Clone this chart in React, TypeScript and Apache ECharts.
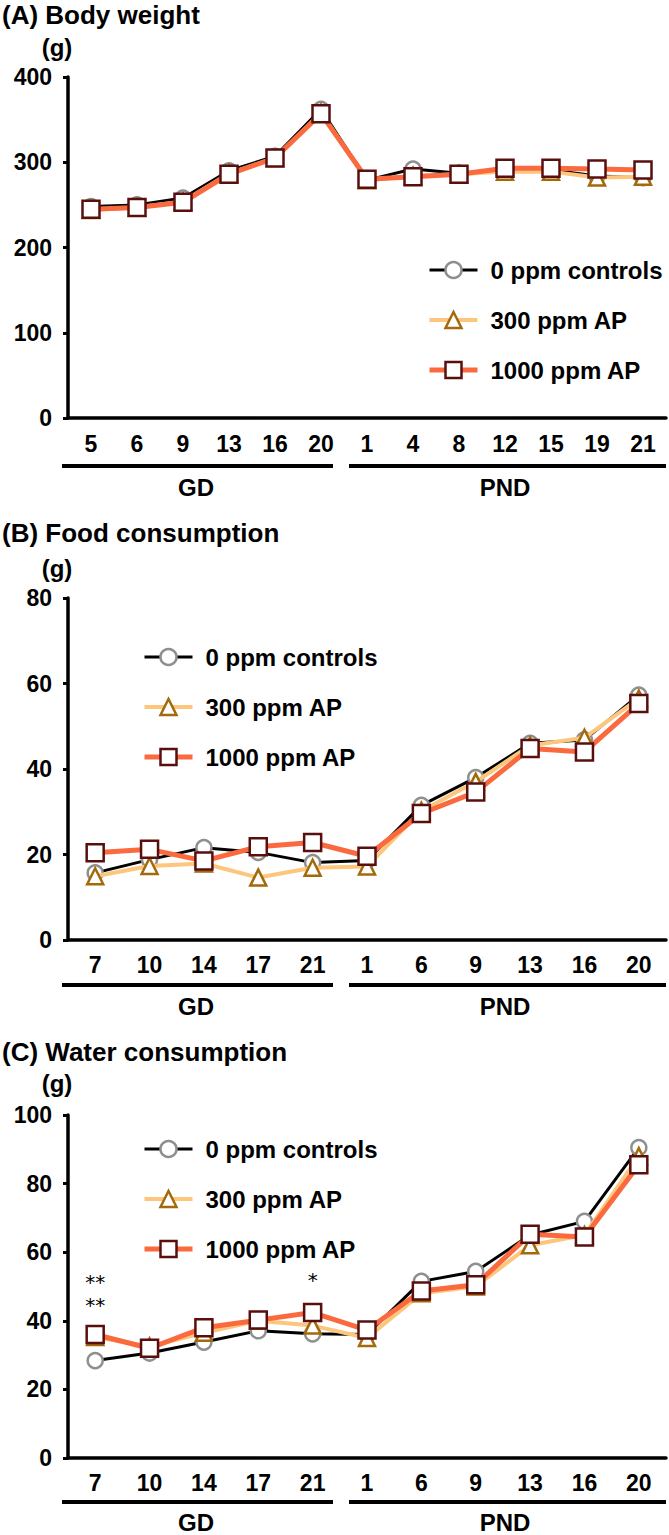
import { useEffect, useRef } from 'react'
import * as echarts from 'echarts'

const seriesNames = ['0 ppm controls', '300 ppm AP', '1000 ppm AP']

// (A) body weight, GD 5..20 then PND 1..21
const bodyWeightDays = ['5', '6', '9', '13', '16', '20', '1', '4', '8', '12', '15', '19', '21']
const bodyWeightControl = [248, 250, 258, 290, 307, 362, 279, 292, 287, 290, 291, 284, 282]
const bodyWeight300 = [244, 247, 254, 287, 305, 358, 279, 284, 286, 289, 289, 282, 283]
const bodyWeight1000 = [245, 247, 253, 286, 305, 357, 280, 283, 286, 293, 293, 292, 291]

// (B) and (C) share the same days
const consumptionDays = ['7', '10', '14', '17', '21', '1', '6', '9', '13', '16', '20']
const foodControl = [15.7, 18.8, 21.6, 20.5, 18.1, 18.6, 31.5, 38, 46, 46.8, 57.3]
const food300 = [14.9, 17.3, 17.9, 14.6, 16.9, 17.2, 30.2, 37, 45.5, 47.3, 56.5]
const food1000 = [20.4, 21.2, 18.5, 21.8, 22.8, 19.6, 29.6, 34.6, 44.8, 44, 55.3]

const waterControl = [28.4, 30.6, 33.8, 37.1, 36.2, 36, 51.5, 54.4, 65, 69, 90.5]
const water300 = [35.3, 32.5, 36.5, 40, 38.6, 35, 48, 50, 62, 65, 88]
const water1000 = [36, 32, 38, 40.2, 42.4, 37.3, 48.7, 50.5, 65.2, 64.4, 85.5]

// significance marks over the 1000 ppm water series (GD 7 has two rows)
const waterMarks = [
  { index: 0, value: 51.4, text: '**' },
  { index: 0, value: 44.6, text: '**' },
  { index: 4, value: 52, text: '*' },
]

const panelTitles = ['(A) Body weight', '(B) Food consumption', '(C) Water consumption']
const yAxisMax = [400, 80, 100]
const yAxisStep = [100, 20, 20]
const periodLabels = ['GD', 'PND']

const FONT = '"Liberation Sans", Arial, Helvetica, sans-serif'

const panels = [
  { top: 77, height: 341, labelMargin: 14, title: 15, unit: 47, bracket: 466, period: 487, legendLeft: 422, legendTop: 253, legendGap: 26 },
  { top: 598, height: 342, labelMargin: 13, title: 533, unit: 568, bracket: 985, period: 1006, legendLeft: 137, legendTop: 640, legendGap: 26 },
  { top: 1115, height: 343, labelMargin: 13, title: 1052, unit: 1083, bracket: 1502, period: 1522, legendLeft: 137, legendTop: 1132, legendGap: 26 },
]

const markerStyles = [
  { symbol: 'circle', symbolSize: 15, line: '#000000', lineWidth: 3, border: '#8f8f8f' },
  { symbol: 'triangle', symbolSize: 16, line: '#fcc77c', lineWidth: 4, border: '#a36a0c' },
  { symbol: 'rect', symbolSize: 17, line: '#fa6a3e', lineWidth: 5, border: '#5a0f0f' },
]

export default function App() {
  const chartRef = useRef<HTMLDivElement>(null)

  useEffect(() => {
    if (!chartRef.current) return
    document.body.style.margin = '0'

    const chart = echarts.init(chartRef.current, null, { renderer: 'svg' })

    const panelData = [
      { days: bodyWeightDays, values: [bodyWeightControl, bodyWeight300, bodyWeight1000] },
      { days: consumptionDays, values: [foodControl, food300, food1000] },
      { days: consumptionDays, values: [waterControl, water300, water1000] },
    ]

    const series: any[] = []
    panelData.forEach((panel, p) => {
      panel.values.forEach((values, i) => {
        const m = markerStyles[i]
        const s: any = {
          type: 'line',
          name: seriesNames[i],
          xAxisIndex: p,
          yAxisIndex: p,
          data: values,
          symbol: m.symbol,
          symbolSize: m.symbolSize,
          showAllSymbol: true,
          lineStyle: { color: m.line, width: m.lineWidth },
          itemStyle: { color: '#ffffff', borderColor: m.border, borderWidth: 2.5 },
          z: 2 + i,
          emphasis: { disabled: true },
        }
        if (p === 2 && i === 2) {
          s.markPoint = {
            silent: true,
            symbol: 'circle',
            symbolSize: 0,
            label: {
              show: true,
              formatter: '{b}',
              fontSize: 20,
              lineHeight: 14,
              color: '#000',
              fontFamily: '"DejaVu Sans", sans-serif',
            },
            data: waterMarks.map(mk => ({ coord: [mk.index, mk.value], name: mk.text })),
          }
        }
        series.push(s)
      })
    })

    const graphic: any[] = []
    panels.forEach((panel, p) => {
      graphic.push({
        type: 'text', x: 2, y: panel.title,
        style: { text: panelTitles[p], font: `bold 26px ${FONT}`, fill: '#000', align: 'left', verticalAlign: 'middle' },
      })
      graphic.push({
        type: 'text', x: 57, y: panel.unit,
        style: { text: '(g)', font: `bold 24px ${FONT}`, fill: '#000', align: 'center', verticalAlign: 'middle' },
      })
      graphic.push({ type: 'line', shape: { x1: 62, y1: panel.bracket, x2: 333, y2: panel.bracket }, style: { stroke: '#000', lineWidth: 4 } })
      graphic.push({ type: 'line', shape: { x1: 349, y1: panel.bracket, x2: 666, y2: panel.bracket }, style: { stroke: '#000', lineWidth: 4 } })
      graphic.push({
        type: 'text', x: 196, y: panel.period,
        style: { text: periodLabels[0], font: `bold 24px ${FONT}`, fill: '#000', align: 'center', verticalAlign: 'middle' },
      })
      graphic.push({
        type: 'text', x: 505, y: panel.period,
        style: { text: periodLabels[1], font: `bold 24px ${FONT}`, fill: '#000', align: 'center', verticalAlign: 'middle' },
      })
    })

    const option = {
      animation: false,
      grid: panels.map(panel => ({ left: 68, top: panel.top, width: 598, height: panel.height })),
      xAxis: panelData.map((panel, p) => ({
        type: 'category',
        gridIndex: p,
        data: panel.days,
        boundaryGap: true,
        axisLine: { lineStyle: { color: '#000', width: 3.5 } },
        axisTick: { alignWithLabel: true, inside: true, length: 8, interval: 0, lineStyle: { color: '#000', width: 3 } },
        axisLabel: { color: '#000', fontSize: 23, fontWeight: 'bold', fontFamily: FONT, margin: panels[p].labelMargin, interval: 0 },
        splitLine: { show: false },
      })),
      yAxis: panels.map((_, p) => ({
        type: 'value',
        gridIndex: p,
        min: 0,
        max: yAxisMax[p],
        interval: yAxisStep[p],
        axisLine: { show: true, lineStyle: { color: '#000', width: 3.5 } },
        axisTick: { show: true, length: 5, lineStyle: { color: '#000', width: 3 } },
        axisLabel: { color: '#000', fontSize: 23, fontWeight: 'bold', fontFamily: FONT, margin: 16 },
        splitLine: { show: false },
      })),
      legend: panels.map(panel => ({
        orient: 'vertical',
        left: panel.legendLeft,
        top: panel.legendTop,
        itemWidth: 48,
        itemHeight: 20,
        itemGap: panel.legendGap,
        selectedMode: false,
        data: seriesNames,
        itemStyle: { borderWidth: 'inherit' },
        lineStyle: { width: 'inherit' },
        textStyle: { color: '#000', fontSize: 24, fontWeight: 'bold', fontFamily: FONT, lineHeight: 24, padding: [0, 0, 0, 8] },
      })),
      graphic,
      series,
    }

    chart.setOption(option)

    return () => {
      chart.dispose()
    }
  }, [])

  return <div ref={chartRef} style={{ width: '669px', height: '1535px' }} />
}
